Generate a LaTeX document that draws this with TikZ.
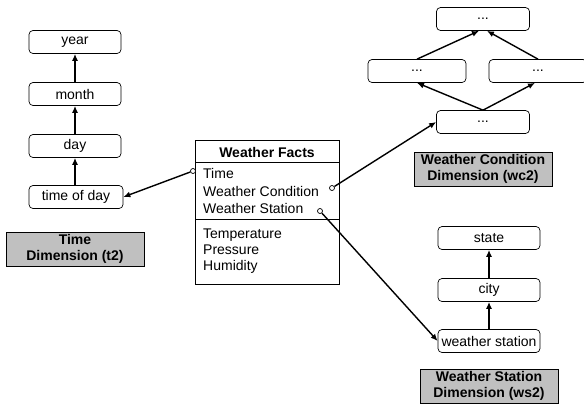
\documentclass[tikz,border=0pt]{standalone}
\usepackage{fontspec}
\setmainfont{Liberation Sans}
\usetikzlibrary{arrows.meta}
\definecolor{dimgray}{HTML}{C0C0C0}
\begin{document}
\begin{tikzpicture}[x=1pt,y=-1pt,
  font=\fontsize{14}{16.5}\selectfont,
  lvl/.style={draw, line width=0.7pt, rounded corners=4pt, minimum height=23pt, inner sep=1pt, fill=white},
  dimlabel/.style={draw, line width=0.7pt, fill=dimgray, minimum width=138pt, minimum height=34pt, align=center, inner sep=0pt, font=\fontsize{14}{16.5}\selectfont\bfseries},
  link/.style={line width=1.4pt, -{Latex[length=7pt,width=6pt]}},
  port/.style={circle, draw, fill=white, inner sep=0pt, minimum size=5pt, line width=0.7pt},
  row/.style={anchor=base west, inner sep=0pt}
]
\useasboundingbox (0,0) rectangle (584,408);

% Time dimension
\node[lvl, minimum width=92pt] (year) at (75,42) {year};
\node[lvl, minimum width=92pt] (month) at (75,94) {month};
\node[lvl, minimum width=92pt] (day) at (75,146) {day};
\node[lvl, minimum width=94pt] (tod) at (76,197) {time of day};
\node[dimlabel] (tlabel) at (75,249) {Time\\Dimension (t2)};
\draw[link] (tod.north -| day.south) -- (day.south);
\draw[link] (day.north) -- (month.south);
\draw[link] (month.north) -- (year.south);

% Weather condition dimension
\node[lvl, minimum width=93pt] (wct) at (483,19) {...};
\node[lvl, minimum width=98pt] (wcl) at (417,71) {...};
\node[lvl, minimum width=98pt] (wcr) at (538,71) {...};
\node[lvl, minimum width=93pt] (wcb) at (483,122) {...};
\node[dimlabel] (wclabel) at (483,169) {Weather Condition\\Dimension (wc2)};
\draw[link] (wcb.north) -- (wcl.south);
\draw[link] (wcb.north) -- ([xshift=-3pt]wcr.south);
\draw[link] (wcl.north) -- ([xshift=-4pt]wct.south);
\draw[link] (wcr.north) -- ([xshift=4pt]wct.south);

% Weather station dimension
\node[lvl, minimum width=102pt] (state) at (489,238) {state};
\node[lvl, minimum width=102pt] (city) at (489,290) {city};
\node[lvl, minimum width=102pt] (wst) at (489,341) {weather station};
\node[dimlabel] (wslabel) at (489,386) {Weather Station\\Dimension (ws2)};
\draw[link] (wst.north) -- (city.south);
\draw[link] (city.north) -- (state.south);

% Fact table
\node[draw, line width=0.7pt, minimum width=144pt, minimum height=144pt, inner sep=0pt, anchor=north west] (facts) at (195,140) {};
\draw[line width=0.7pt] (195,162) -- (339,162);
\draw[line width=0.7pt] (195,219) -- (339,219);
\node[anchor=base, inner sep=0pt, font=\fontsize{14}{16.5}\selectfont\bfseries] (ftitle) at (267,157) {Weather Facts};
\node[row] (rtime) at (203,178) {Time};
\node[row] (rwc) at (203,196) {Weather Condition};
\node[row] (rws) at (203,213) {Weather Station};
\node[row] (rtemp) at (203,238) {Temperature};
\node[row] (rpres) at (203,254) {Pressure};
\node[row] (rhum) at (203,270) {Humidity};

\node[port] (ptime) at (193,171) {};
\node[port] (pwc) at (332,188) {};
\node[port] (pws) at (320,211) {};

\draw[link] (ptime) -- (tod.east);
\draw[link] (pwc) -- (wcb.west);
\draw[link] (pws) -- (wst.west);
\end{tikzpicture}
\end{document}
